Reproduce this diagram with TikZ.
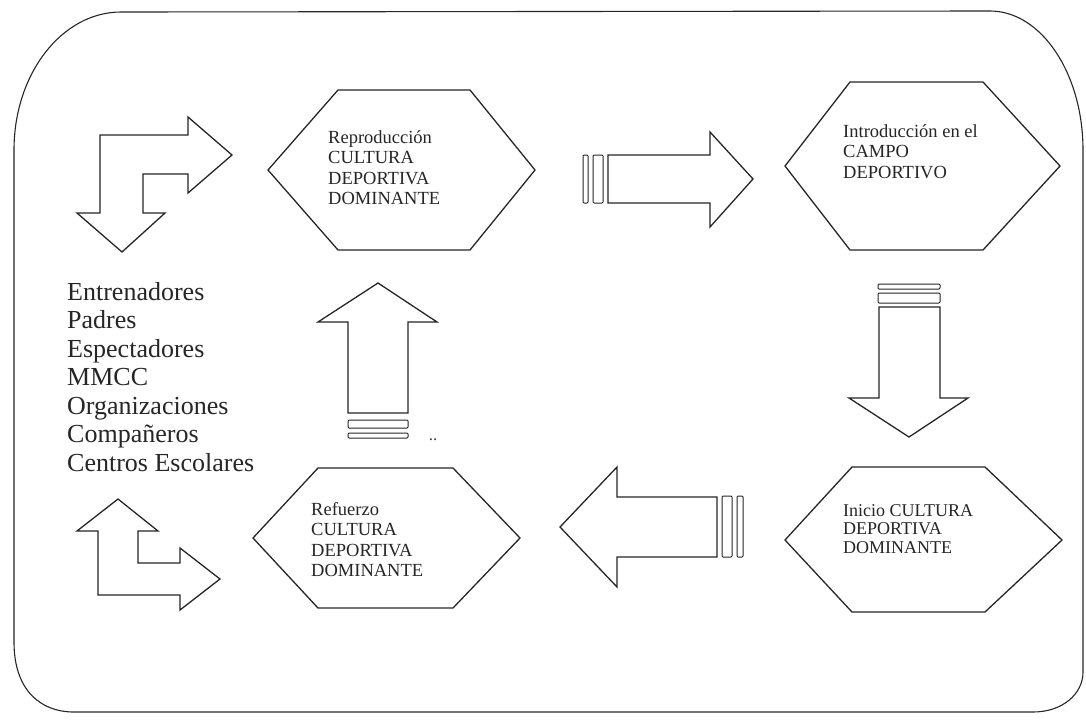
\documentclass[tikz,border=0pt]{standalone}
\usepackage{fontspec}
\setmainfont{Liberation Serif}
\begin{document}
\begin{tikzpicture}[x=1pt,y=-1pt,
  outline/.style={draw=black!85, line width=1.3pt, line join=miter, fill=white},
  frame/.style={draw=black!85, line width=1.1pt},
  bar/.style={draw=black!85, line width=1pt, rounded corners=1pt},
  hextext/.style={anchor=north west, inner sep=0pt, align=left, text=black!85,
                  font=\fontsize{18.5}{20.5}\selectfont},
  listtext/.style={anchor=north west, inner sep=0pt, align=left, text=black!85,
                  font=\fontsize{26}{28.5}\selectfont}]
\useasboundingbox (0,0) rectangle (1086,721);
\fill[white] (0,0) rectangle (1086,721);

% outer rounded frame
\draw[frame] (14,150) .. controls (14,73.8) and (61.9,12) .. (121,12)
  -- (990,11) .. controls (1041.4,11) and (1083,73.8) .. (1083,150)
  -- (1083,672) .. controls (1083,694) and (1062.4,712) .. (1033,712)
  -- (74,712) .. controls (40.9,712) and (14,690.7) .. (14,642) -- cycle;

% hexagons
\draw[outline] (338,90) -- (470,90) -- (535,170) -- (470,250) -- (338,250) -- (268,170) -- cycle;
\draw[outline] (850,82) -- (983,82) -- (1060,166) -- (983,250) -- (850,250) -- (785,166) -- cycle;
\draw[outline] (852,467) -- (985,467) -- (1062,540) -- (985,612) -- (852,612) -- (785,540) -- cycle;
\draw[outline] (318,468) -- (453,468) -- (520,538) -- (453,608) -- (318,608) -- (253,538) -- cycle;

% hexagon labels
\node[hextext] (repro) at (328,130) {Reproducción\\CULTURA\\DEPORTIVA\\DOMINANTE};
\node[hextext] (intro) at (843,124) {Introducción en el\\CAMPO\\DEPORTIVO};
\node[hextext, font=\fontsize{18}{18.5}\selectfont] (inicio) at (843,504) {Inicio CULTURA\\DEPORTIVA\\DOMINANTE};
\node[hextext] (refuerzo) at (311,502) {Refuerzo\\CULTURA\\DEPORTIVA\\DOMINANTE};

% list of agents
\node[listtext] (agentes) at (67,282) {Entrenadores\\Padres\\Espectadores\\MMCC\\Organizaciones\\Compañeros\\Centros Escolares};

% bent arrow, top left (right and down)
\draw[outline] (232,155) -- (188,117) -- (188,135) -- (100,135) -- (100,213) -- (77,213)
  -- (122,252) -- (165,213) -- (143,213) -- (143,174) -- (188,174) -- (188,193) -- cycle;

% bent arrow, bottom left (up and right)
\draw[outline] (118,499) -- (158,531) -- (138,531) -- (138,563) -- (180,563) -- (180,548)
  -- (220,579) -- (180,610) -- (180,595) -- (98,595) -- (98,531) -- (77,531) -- cycle;

% arrow to the right, with bars
\draw[bar] (583,155) rectangle (588,203);
\draw[bar] (593,155) rectangle (603,203);
\draw[outline] (608,155) -- (710,155) -- (710,132) -- (753,179) -- (710,227) -- (710,203) -- (608,203) -- cycle;

% arrow downwards, with bars
\draw[bar] (878,284) rectangle (940,289);
\draw[bar] (878,293) rectangle (940,303);
\draw[outline] (879,307) -- (940,307) -- (940,398) -- (968,398) -- (909,437) -- (849,398) -- (879,398) -- cycle;

% arrow to the left, with bars
\draw[bar] (722,496) rectangle (732,557);
\draw[bar] (737,496) rectangle (743,557);
\draw[outline] (717,497) -- (617,497) -- (617,467) -- (560,527) -- (617,587) -- (617,557) -- (717,557) -- cycle;

% arrow upwards, with bars
\draw[bar] (348,420) rectangle (408,428);
\draw[bar] (348,433) rectangle (408,438);
\draw[outline] (348,413) -- (348,322) -- (318,322) -- (378,283) -- (437,322) -- (408,322) -- (408,413) -- cycle;
\node[inner sep=0pt, text=black!75, font=\fontsize{17}{17}\selectfont, anchor=base] (puntos) at (433,440) {..};
\end{tikzpicture}
\end{document}
